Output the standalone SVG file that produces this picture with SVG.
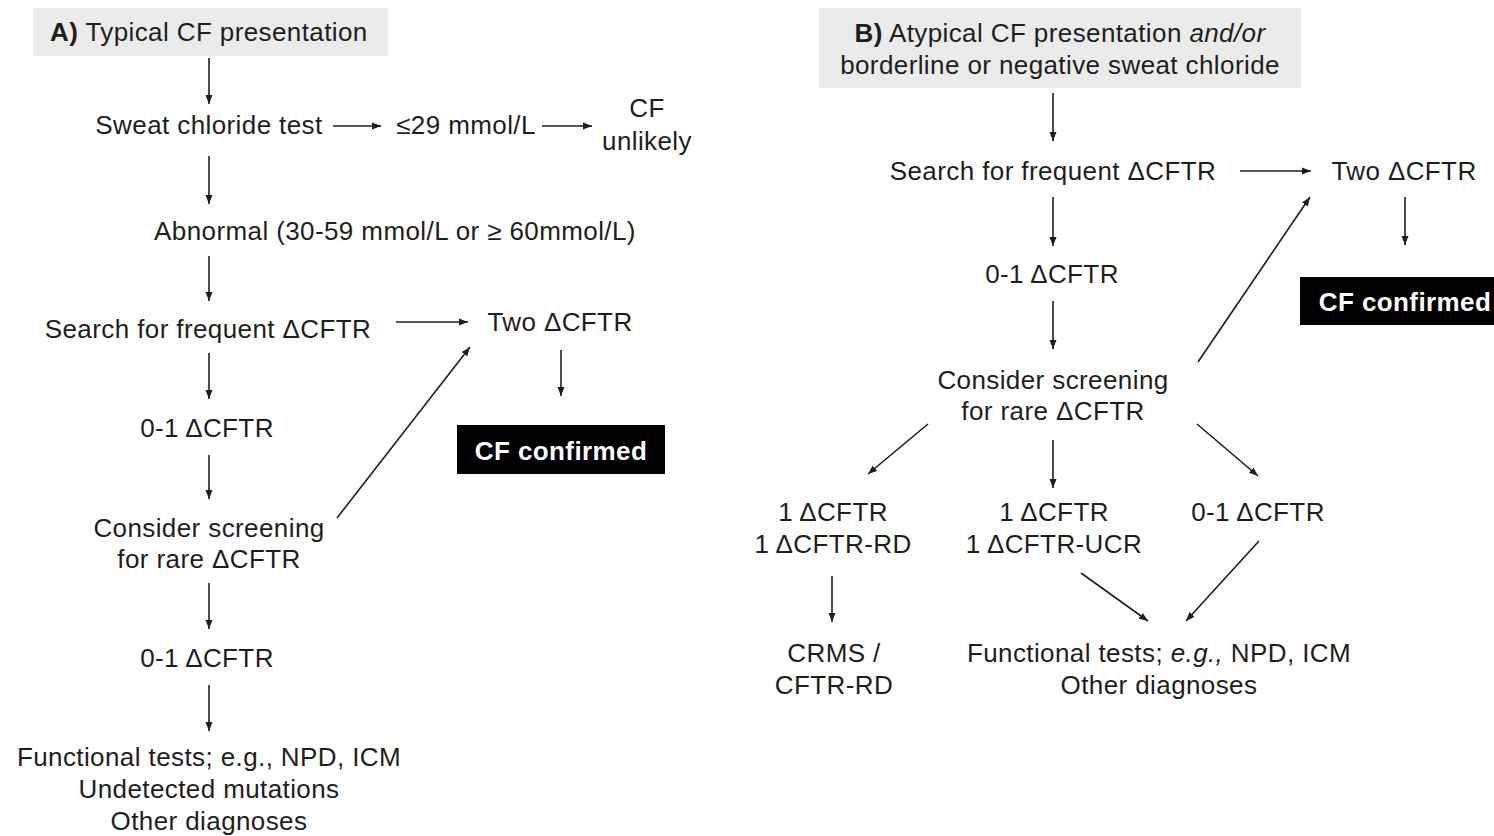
<svg xmlns="http://www.w3.org/2000/svg" width="1494" height="836" viewBox="0 0 1494 836">
<defs>
<marker id="ah" markerUnits="userSpaceOnUse" markerWidth="10" markerHeight="8" refX="9" refY="4" orient="auto">
<path d="M0,0.5 L9,4 L0,7.5 z" fill="#1e1e1e"/>
</marker>
<style>
text{font-family:"Liberation Sans",Arial,sans-serif;font-size:26px;letter-spacing:0.4px;fill:#1e1e1e}
.m{text-anchor:middle}
.hd{fill:#ebebeb}
.bx{fill:#000}
.w{fill:#fff;font-weight:bold;text-anchor:middle}
.b{font-weight:bold}
.i{font-style:italic}
#connectors line{stroke:#1e1e1e;stroke-width:1.6;marker-end:url(#ah)}
</style>
</defs>
<rect width="1494" height="836" fill="#fff"/>

<g id="connectors">
<!-- Panel A -->
<line x1="209" y1="58" x2="209" y2="104"/>
<line x1="333" y1="126" x2="381" y2="126"/>
<line x1="542" y1="126" x2="592" y2="126"/>
<line x1="209" y1="156" x2="209" y2="204"/>
<line x1="209" y1="256" x2="209" y2="301"/>
<line x1="396" y1="322" x2="468" y2="322"/>
<line x1="561" y1="350" x2="561" y2="396"/>
<line x1="209" y1="353" x2="209" y2="399"/>
<line x1="209" y1="455" x2="209" y2="499"/>
<line x1="337" y1="518" x2="470" y2="347"/>
<line x1="209" y1="583" x2="209" y2="629"/>
<line x1="209" y1="685" x2="209" y2="731"/>
<!-- Panel B -->
<line x1="1053" y1="93" x2="1053" y2="141"/>
<line x1="1240" y1="171" x2="1311" y2="171"/>
<line x1="1405" y1="197" x2="1405" y2="245"/>
<line x1="1053" y1="197" x2="1053" y2="246"/>
<line x1="1053" y1="301" x2="1053" y2="349"/>
<line x1="1198" y1="362" x2="1310" y2="197"/>
<line x1="928" y1="424" x2="868" y2="474"/>
<line x1="1053" y1="440" x2="1053" y2="488"/>
<line x1="1197" y1="424" x2="1258" y2="476"/>
<line x1="832" y1="576" x2="832" y2="622"/>
<line x1="1081" y1="573" x2="1148" y2="621"/>
<line x1="1259" y1="541" x2="1186" y2="621"/>
</g>

<!-- Panel A nodes -->
<g id="a-header">
<rect class="hd" x="33" y="8" width="355" height="48"/>
<text x="50" y="41"><tspan class="b">A)</tspan> Typical CF presentation</text>
</g>
<g id="a-sweat"><text class="m" x="209" y="134">Sweat chloride test</text></g>
<g id="a-low"><text class="m" x="466" y="134">≤29 mmol/L</text></g>
<g id="a-unlikely"><text class="m" x="647" y="117">CF</text><text class="m" x="647" y="150">unlikely</text></g>
<g id="a-abnormal"><text class="m" x="395" y="240">Abnormal (30-59 mmol/L or ≥ 60mmol/L)</text></g>
<g id="a-search"><text class="m" x="208" y="338">Search for frequent ΔCFTR</text></g>
<g id="a-two"><text class="m" x="560" y="331">Two ΔCFTR</text></g>
<g id="a-confirmed">
<rect class="bx" x="457" y="425" width="208" height="49"/>
<text class="w" x="561" y="460">CF confirmed</text>
</g>
<g id="a-01a"><text class="m" x="207" y="437">0-1 ΔCFTR</text></g>
<g id="a-consider"><text class="m" x="209" y="537">Consider screening</text><text class="m" x="209" y="568">for rare ΔCFTR</text></g>
<g id="a-01b"><text class="m" x="207" y="667">0-1 ΔCFTR</text></g>
<g id="a-functional">
<text class="m" x="209" y="766">Functional tests; e.g., NPD, ICM</text>
<text class="m" x="209" y="798">Undetected mutations</text>
<text class="m" x="209" y="830">Other diagnoses</text>
</g>

<!-- Panel B nodes -->
<g id="b-header">
<rect class="hd" x="819" y="8" width="482" height="80"/>
<text class="m" x="1060" y="42"><tspan class="b">B)</tspan> Atypical CF presentation <tspan class="i">and/or</tspan></text>
<text class="m" x="1060" y="74">borderline or negative sweat chloride</text>
</g>
<g id="b-search"><text class="m" x="1053" y="180">Search for frequent ΔCFTR</text></g>
<g id="b-two"><text class="m" x="1404" y="180">Two ΔCFTR</text></g>
<g id="b-confirmed">
<rect class="bx" x="1300" y="277" width="210" height="48"/>
<text class="w" x="1405" y="311">CF confirmed</text>
</g>
<g id="b-01a"><text class="m" x="1052" y="283">0-1 ΔCFTR</text></g>
<g id="b-consider"><text class="m" x="1053" y="389">Consider screening</text><text class="m" x="1053" y="420">for rare ΔCFTR</text></g>
<g id="b-rd"><text class="m" x="833" y="521">1 ΔCFTR</text><text class="m" x="833" y="553">1 ΔCFTR-RD</text></g>
<g id="b-ucr"><text class="m" x="1054" y="521">1 ΔCFTR</text><text class="m" x="1054" y="553">1 ΔCFTR-UCR</text></g>
<g id="b-01b"><text class="m" x="1258" y="521">0-1 ΔCFTR</text></g>
<g id="b-crms"><text class="m" x="834" y="662">CRMS /</text><text class="m" x="834" y="694">CFTR-RD</text></g>
<g id="b-functional">
<text class="m" x="1159" y="662">Functional tests; <tspan class="i">e.g.,</tspan> NPD, ICM</text>
<text class="m" x="1159" y="694">Other diagnoses</text>
</g>
</svg>
